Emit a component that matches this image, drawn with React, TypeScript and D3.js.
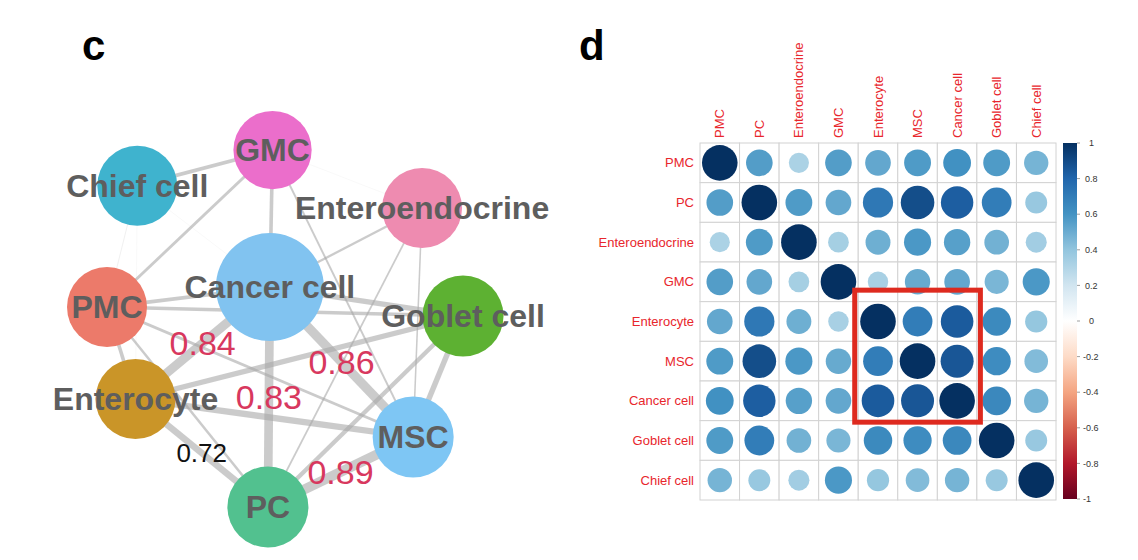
import React from "react";
import * as d3 from "d3";

// ---------- DATA ----------
const cellTypes = [
  "PMC", "PC", "Enteroendocrine", "GMC", "Enterocyte",
  "MSC", "Cancer cell", "Goblet cell", "Chief cell",
];

// correlation matrix (rows/cols in cellTypes order)
const rowPMC = [1, 0.56, 0.32, 0.56, 0.52, 0.57, 0.61, 0.57, 0.47];
const rowPC = [0.56, 1, 0.57, 0.52, 0.72, 0.89, 0.83, 0.7, 0.38];
const rowEE = [0.32, 0.57, 1, 0.34, 0.49, 0.58, 0.55, 0.48, 0.35];
const rowGMC = [0.56, 0.52, 0.34, 1, 0.33, 0.51, 0.52, 0.46, 0.58];
const rowEnt = [0.52, 0.72, 0.49, 0.33, 1, 0.7, 0.84, 0.64, 0.39];
const rowMSC = [0.57, 0.89, 0.58, 0.51, 0.7, 1, 0.86, 0.63, 0.44];
const rowCan = [0.61, 0.83, 0.55, 0.52, 0.84, 0.86, 1, 0.65, 0.47];
const rowGob = [0.57, 0.7, 0.48, 0.46, 0.64, 0.63, 0.65, 1, 0.38];
const rowChief = [0.47, 0.38, 0.35, 0.58, 0.39, 0.44, 0.47, 0.38, 1];
const corrMatrix = [rowPMC, rowPC, rowEE, rowGMC, rowEnt, rowMSC, rowCan, rowGob, rowChief];

const colorbarTicks = [1, 0.8, 0.6, 0.4, 0.2, 0, -0.2, -0.4, -0.6, -0.8, -1];
const highlighted = ["Enterocyte", "MSC", "Cancer cell"];

// network nodes (layout coordinates in layout units)
const nodeNames = ["Chief cell", "GMC", "Enteroendocrine", "Cancer cell", "PMC", "Goblet cell", "Enterocyte", "MSC", "PC"];
const nodeLayoutX = [-0.83, -0.07, 0.77, -0.085, -1, 1, -0.84, 0.72, -0.096];
const nodeLayoutY = [-0.8, -1, -0.675, -0.232, -0.12, -0.07, 0.395, 0.608, 1];
const nodeWeight = [1, 0.95, 1, 1.8, 1, 1.03, 1, 1.03, 1.03];

// network edges: [source, target, correlation]
const networkEdges: [string, string, number][] = [
  ["Chief cell", "PMC", 0.41],
  ["Chief cell", "Enterocyte", 0.4],
  ["GMC", "Enteroendocrine", 0.4],
  ["Chief cell", "Cancer cell", 0.4],
  ["Chief cell", "GMC", 0.57],
  ["GMC", "Cancer cell", 0.56],
  ["GMC", "PMC", 0.52],
  ["GMC", "MSC", 0.47],
  ["Enteroendocrine", "Cancer cell", 0.49],
  ["Enteroendocrine", "PC", 0.46],
  ["Enteroendocrine", "MSC", 0.45],
  ["PMC", "Cancer cell", 0.57],
  ["PMC", "Goblet cell", 0.55],
  ["PMC", "Enterocyte", 0.56],
  ["PMC", "MSC", 0.52],
  ["PMC", "PC", 0.5],
  ["Cancer cell", "Goblet cell", 0.65],
  ["Goblet cell", "MSC", 0.66],
  ["Goblet cell", "PC", 0.6],
  ["Enterocyte", "Goblet cell", 0.65],
  ["Enterocyte", "MSC", 0.7],
  ["Enterocyte", "PC", 0.72],
  ["Cancer cell", "PC", 0.83],
  ["Enterocyte", "Cancer cell", 0.84],
  ["Cancer cell", "MSC", 0.86],
  ["MSC", "PC", 0.89],
];
const labeledEdges: [string, string][] = [
  ["Enterocyte", "Cancer cell"],
  ["Cancer cell", "MSC"],
  ["Cancer cell", "PC"],
  ["MSC", "PC"],
  ["Enterocyte", "PC"],
];

// ---------- STYLES ----------
const rdbuStops = ["#67001F", "#B2182B", "#D6604D", "#F4A582", "#FDDBC7", "#FFFFFF", "#D1E5F0", "#92C5DE", "#4393C3", "#2166AC", "#053061"];
const nodeColors = ["#3fb3ce", "#eb6ecb", "#ee8bb0", "#81c3f0", "#ec7a6a", "#5db132", "#ca9528", "#7ec6f4", "#52c18f"];
const FONT = "'Liberation Sans', Arial, Helvetica, sans-serif";

export default function App() {
  const W = 1138, H = 560;

  // correlation color
  const corrColor = d3
    .scaleLinear<string>()
    .domain(d3.range(rdbuStops.length).map((i) => -1 + (2 * i) / (rdbuStops.length - 1)))
    .range(rdbuStops)
    .interpolate(d3.interpolateRgb);

  // matrix scales
  const xBand = d3.scaleBand<string>().domain(cellTypes).range([700, 1056]);
  const yBand = d3.scaleBand<string>().domain(cellTypes).range([143, 500]);
  const bw = xBand.bandwidth();
  const bh = yBand.bandwidth();

  const cbScale = d3.scaleLinear().domain([1, -1]).range([143, 499]);

  // network scales
  const nx = d3.scaleLinear().domain([-1, 1]).range([107, 463]);
  const ny = d3.scaleLinear().domain([-1, 1]).range([150, 507]);
  const nr = d3.scaleLinear().domain([1, 1.8]).range([40, 54]);
  const edgeW = d3.scaleLinear().domain([0.4, 0.9]).range([0.6, 10]).clamp(true);
  const edgeOp = d3.scaleLinear().domain([0.4, 0.45]).range([0.12, 0.6]).clamp(true);

  const nodeIdx = (n: string) => nodeNames.indexOf(n);
  const pos = (n: string) => {
    const i = nodeIdx(n);
    return [nx(nodeLayoutX[i]), ny(nodeLayoutY[i])];
  };
  const edgeValue = (a: string, b: string) => {
    const e = networkEdges.find((d) => (d[0] === a && d[1] === b) || (d[0] === b && d[1] === a));
    return e ? e[2] : 0;
  };

  const gradStops = d3.range(0, 21).map((i) => {
    const v = 1 - i / 10;
    return { off: i / 20, col: corrColor(v) };
  });

  const hx0 = xBand(highlighted[0])! - 3.5;
  const hx1 = xBand(highlighted[highlighted.length - 1])! + bw + 3.5;
  const hy0 = yBand(highlighted[0])! - 11.5;
  const hy1 = yBand(highlighted[highlighted.length - 1])! + bh + 1.5;

  return (
    <svg
      width={W}
      height={H}
      viewBox={`0 0 ${W} ${H}`}
      style={{ position: "absolute", left: 0, top: 0, background: "#fff" }}
      fontFamily={FONT}
    >
      <rect x={0} y={0} width={W} height={H} fill="#fff" />
      <defs>
        <linearGradient id="cbGrad" x1="0" y1="0" x2="0" y2="1">
          {gradStops.map((s, i) => (
            <stop key={i} offset={s.off} stopColor={s.col} />
          ))}
        </linearGradient>
      </defs>

      {/* panel labels */}
      <text x={82} y={60} fontSize={42} fontWeight="bold" fill="#000">c</text>
      <text x={579} y={60} fontSize={42} fontWeight="bold" fill="#000">d</text>

      {/* ---------- network ---------- */}
      <g>
        {networkEdges.map(([a, b, v], i) => {
          const [x1, y1] = pos(a);
          const [x2, y2] = pos(b);
          return (
            <line
              key={i}
              x1={x1}
              y1={y1}
              x2={x2}
              y2={y2}
              stroke="#a9a9a9"
              strokeOpacity={edgeOp(v)}
              strokeWidth={edgeW(v)}
            />
          );
        })}
        {nodeNames.map((n, i) => (
          <circle
            key={n}
            cx={nx(nodeLayoutX[i])}
            cy={ny(nodeLayoutY[i])}
            r={nr(nodeWeight[i])}
            fill={nodeColors[i]}
          />
        ))}
        {nodeNames.map((n, i) => (
          <text
            key={n}
            x={nx(nodeLayoutX[i])}
            y={ny(nodeLayoutY[i])}
            dy="0.35em"
            textAnchor="middle"
            fontSize={32}
            fontWeight="bold"
            fill="#5e5e5e"
          >
            {n}
          </text>
        ))}
        {labeledEdges.map(([a, b], i) => {
          const [x1, y1] = pos(a);
          const [x2, y2] = pos(b);
          const v = edgeValue(a, b);
          const strong = v >= 0.8;
          return (
            <text
              key={i}
              x={(x1 + x2) / 2}
              y={(y1 + y2) / 2}
              dy="0.36em"
              textAnchor="middle"
              fontSize={strong ? 34 : 26}
              fill={strong ? "#d8385e" : "#111"}
            >
              {v.toFixed(2)}
            </text>
          );
        })}
      </g>

      {/* ---------- correlation matrix ---------- */}
      <g>
        {cellTypes.map((r) =>
          cellTypes.map((c) => (
            <rect
              key={r + c}
              x={xBand(c)}
              y={yBand(r)}
              width={bw}
              height={bh}
              fill="#fff"
              stroke="#d2d2d2"
              strokeWidth={1}
            />
          ))
        )}
        {corrMatrix.map((row, ri) =>
          row.map((v, ci) => (
            <circle
              key={ri + "-" + ci}
              cx={xBand(cellTypes[ci])! + bw / 2}
              cy={yBand(cellTypes[ri])! + bh / 2}
              r={0.45 * bw * Math.sqrt(Math.abs(v))}
              fill={corrColor(v)}
            />
          ))
        )}
        {cellTypes.map((r) => (
          <text
            key={"rl" + r}
            x={694}
            y={yBand(r)! + bh / 2}
            dy="0.35em"
            textAnchor="end"
            fontSize={13}
            fill="#e8262c"
          >
            {r}
          </text>
        ))}
        {cellTypes.map((c) => (
          <text
            key={"cl" + c}
            transform={`translate(${xBand(c)! + bw / 2 + 4.5},138) rotate(-90)`}
            textAnchor="start"
            fontSize={13}
            fill="#e8262c"
          >
            {c}
          </text>
        ))}
        <rect
          x={hx0}
          y={hy0}
          width={hx1 - hx0}
          height={hy1 - hy0}
          fill="none"
          stroke="#de2a1f"
          strokeWidth={5}
        />
        <rect x={1063} y={cbScale(1)} width={14} height={cbScale(-1) - cbScale(1)} fill="url(#cbGrad)" />
        {colorbarTicks.map((t) => (
          <g key={"t" + t}>
            <line x1={1077} x2={1080} y1={cbScale(t)} y2={cbScale(t)} stroke="#888" strokeWidth={0.8} />
            <text x={t === 1 || t === 0 ? 1089 : t < 0 ? 1083 : 1085} y={cbScale(t)} dy="0.35em" fontSize={9} fill="#333">
              {t === 0 ? "0" : t === 1 ? "1" : t === -1 ? "-1" : String(t)}
            </text>
          </g>
        ))}
      </g>
    </svg>
  );
}
